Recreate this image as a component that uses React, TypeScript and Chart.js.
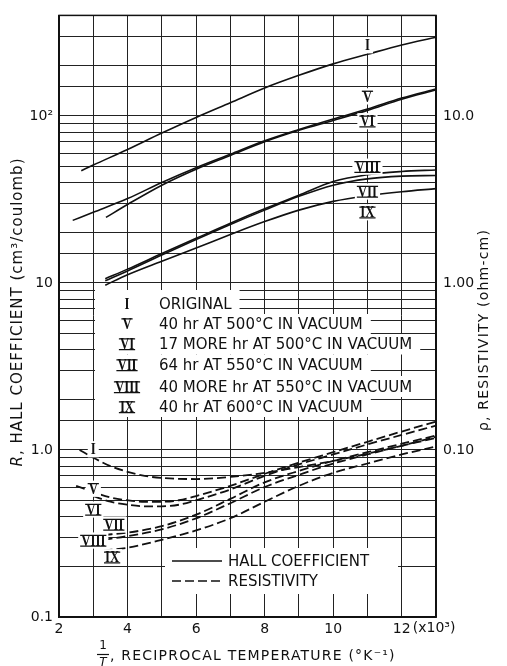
import React, { useEffect, useRef } from "react";
import { Chart, registerables } from "chart.js";
Chart.register(...registerables);

// ---------- data ----------
const seriesNames = ["I", "V", "VI", "VII", "VIII", "IX"];
const seriesDescriptions = [
  "ORIGINAL",
  "40 hr AT 500°C IN VACUUM",
  "17 MORE hr AT 500°C IN VACUUM",
  "64 hr AT 550°C IN VACUUM",
  "40 MORE hr AT 550°C IN VACUUM",
  "40 hr AT 600°C IN VACUUM",
];

// Hall coefficient R (cm^3/coulomb), left axis — vs 1/T (x10^-3 K^-1)
const hallX_I = [2.65, 3, 4, 5, 6, 7, 8, 9, 10, 11, 12, 13];
const hallR_I = [47, 50.8, 63, 79, 98, 120, 147, 175, 205, 234, 266, 296];
const hallX_V = [2.4, 3, 4, 5, 6, 7, 8, 9, 10, 11, 12, 13];
const hallR_V = [23.7, 26.5, 32, 40, 49, 59, 71, 83, 96, 110, 128, 145];
const hallX_VI = [3.37, 4, 5, 6, 7, 8, 9, 10, 11, 12, 13];
const hallR_VI = [24.7, 29.5, 38.5, 48, 58, 70, 82, 94, 108, 126, 143];
const hallX_VII = [3.35, 4, 5, 6, 7, 8, 9, 10, 11, 12, 13];
const hallR_VII = [10.3, 11.8, 14.7, 18.2, 22.4, 27.3, 33, 38.5, 42, 43.6, 44];
const hallX_VIII = [3.35, 4, 5, 6, 7, 8, 9, 10, 11, 12, 13];
const hallR_VIII = [10.6, 12.1, 15, 18.5, 22.8, 27.8, 33.5, 40.5, 44.5, 46.5, 47.5];
const hallX_IX = [3.35, 4, 5, 6, 7, 8, 9, 10, 11, 12, 13];
const hallR_IX = [9.7, 11.2, 13.5, 16.2, 19.5, 23.3, 27.3, 30.8, 33.3, 35.2, 36.7];

// Resistivity rho (ohm-cm), right axis
const rhoX_I = [2.6, 3, 3.5, 4, 4.5, 5, 6, 7, 8, 9, 10, 11, 12, 13];
const rho_I = [0.1, 0.09, 0.08, 0.074, 0.07, 0.068, 0.067, 0.069, 0.073, 0.079, 0.086, 0.095, 0.106, 0.12];
const rhoX_V = [2.5, 3, 3.5, 4, 4.5, 5, 5.5, 6, 7, 8, 9, 10, 11, 12, 13];
const rho_V = [0.061, 0.056, 0.052, 0.05, 0.049, 0.049, 0.05, 0.053, 0.061, 0.072, 0.084, 0.097, 0.112, 0.129, 0.148];
const rhoX_VI = [3.0, 3.5, 4, 4.5, 5, 5.5, 6, 7, 8, 9, 10, 11, 12, 13];
const rho_VI = [0.053, 0.049, 0.047, 0.046, 0.046, 0.047, 0.05, 0.058, 0.07, 0.082, 0.094, 0.108, 0.123, 0.14];
const rhoX_VII = [3.3, 4, 5, 6, 7, 8, 9, 10, 11, 12, 13];
const rho_VII = [0.031, 0.032, 0.035, 0.041, 0.051, 0.064, 0.075, 0.086, 0.097, 0.109, 0.122];
const rhoX_VIII = [3.3, 4, 5, 6, 7, 8, 9, 10, 11, 12, 13];
const rho_VIII = [0.029, 0.0305, 0.0335, 0.039, 0.048, 0.06, 0.071, 0.083, 0.094, 0.106, 0.118];
const rhoX_IX = [3.3, 4, 5, 6, 7, 8, 9, 10, 11, 12, 13];
const rho_IX = [0.025, 0.026, 0.029, 0.033, 0.039, 0.049, 0.061, 0.073, 0.083, 0.094, 0.105];

// curve label anchors (x, R on left axis)
const upperLabelNames = ["I", "V", "VI", "VIII", "VII", "IX"];
const upperLabelX = [11, 11, 11, 11, 11, 11];
const upperLabelR = [265, 131, 93, 49.7, 35.3, 26.5];
const lowerLabelNames = ["I", "V", "VI", "VII", "VIII", "IX"];
const lowerLabelX = [3, 3, 3, 3.6, 3, 3.55];
const lowerLabelR = [1.01, 0.586, 0.44, 0.358, 0.287, 0.228];

const leftTickText: Record<number, string> = { [-1]: "0.1", 0: "1.0", 1: "10", 2: "10²" };
const rightTickText: Record<number, string> = { [-2]: "", [-1]: "0.10", 0: "1.00", 1: "10.0" };

// ---------- helpers ----------
const INK = "#111";
const FONT = '"DejaVu Sans", sans-serif';
const pts = (xs: number[], ys: number[]) => xs.map((x, i) => ({ x, y: ys[i] }));
const decadeExp = (v: number) => {
  const l = Math.log10(v);
  return Math.abs(l - Math.round(l)) < 1e-6 ? Math.round(l) : null;
};

function drawRoman(ctx: CanvasRenderingContext2D, text: string, cx: number, cy: number, size: number) {
  ctx.save();
  ctx.font = `bold ${size}px "Liberation Serif", "DejaVu Serif", serif`;
  ctx.textAlign = "center";
  ctx.textBaseline = "middle";
  const sx = 0.8;
  const w = ctx.measureText(text).width * sx;
  const capH = size * 0.64;
  ctx.fillStyle = "#fff";
  ctx.fillRect(cx - w / 2 - 3, cy - capH / 2 - 3, w + 6, capH + 6);
  ctx.fillStyle = INK;
  ctx.save();
  ctx.translate(cx, cy + 1);
  ctx.scale(sx, 1);
  ctx.fillText(text, 0, 0);
  ctx.restore();
  ctx.strokeStyle = INK;
  ctx.lineWidth = 1.3;
  if (text.length > 1 || text === "V") {
    ctx.beginPath();
    ctx.moveTo(cx - w / 2 - 1, cy - capH / 2);
    ctx.lineTo(cx + w / 2 + 1, cy - capH / 2);
    if (text.length > 1) {
      ctx.moveTo(cx - w / 2 - 1, cy + capH / 2 + 0.5);
      ctx.lineTo(cx + w / 2 + 1, cy + capH / 2 + 0.5);
    }
    ctx.stroke();
  }
  ctx.restore();
}

function drawRich(
  ctx: CanvasRenderingContext2D,
  segs: { text: string; font: string }[],
  x: number,
  y: number,
  rotate: boolean,
  spacing: string
) {
  ctx.save();
  ctx.translate(x, y);
  if (rotate) ctx.rotate(-Math.PI / 2);
  (ctx as any).letterSpacing = spacing;
  let total = 0;
  const ws = segs.map((s) => {
    ctx.font = s.font;
    const w = ctx.measureText(s.text).width;
    total += w;
    return w;
  });
  let cx = -total / 2;
  ctx.textAlign = "left";
  ctx.textBaseline = "middle";
  ctx.fillStyle = INK;
  segs.forEach((s, i) => {
    ctx.font = s.font;
    ctx.fillText(s.text, cx, 0);
    cx += ws[i];
  });
  ctx.restore();
}

const overlayPlugin = {
  id: "overlay",
  beforeDatasetsDraw(chart: any) {
    const ctx: CanvasRenderingContext2D = chart.ctx;
    ctx.save();
    ctx.fillStyle = "#fff";
    ctx.font = `15px ${FONT}`;
    const rowsY = [304, 324, 344, 365, 387, 407];
    const textX = 159;
    rowsY.forEach((cy, i) => {
      const top = i === 0 ? 290 : (rowsY[i - 1] + cy) / 2;
      const bot = i === rowsY.length - 1 ? 417 : (rowsY[i + 1] + cy) / 2;
      const w = ctx.measureText(seriesDescriptions[i]).width;
      ctx.fillRect(95, top, textX + w + 8 - 95, bot - top);
    });
    ctx.fillRect(165, 548, 233, 46);
    ctx.restore();
  },
  afterDatasetsDraw(chart: any) {
    const ctx: CanvasRenderingContext2D = chart.ctx;
    const xs = chart.scales.x;
    const ys = chart.scales.y;
    const { left, top, right, bottom } = chart.chartArea;
    ctx.save();
    ctx.strokeStyle = INK;
    ctx.lineWidth = 1.5;
    ctx.strokeRect(left, top, right - left, bottom - top);

    // legend block
    const rowsY = [304, 324, 344, 365, 387, 407];
    rowsY.forEach((cy, i) => {
      drawRoman(ctx, seriesNames[i], 127, cy, 16);
      ctx.fillStyle = INK;
      ctx.font = `15px ${FONT}`;
      ctx.textAlign = "left";
      ctx.textBaseline = "middle";
      ctx.fillText(seriesDescriptions[i], 159, cy + 1);
    });

    // line style legend
    ctx.strokeStyle = INK;
    ctx.lineWidth = 1.7;
    ctx.beginPath();
    ctx.moveTo(172, 561);
    ctx.lineTo(222, 561);
    ctx.stroke();
    ctx.setLineDash([9, 4]);
    ctx.beginPath();
    ctx.moveTo(172, 581);
    ctx.lineTo(222, 581);
    ctx.stroke();
    ctx.setLineDash([]);
    ctx.fillStyle = INK;
    ctx.font = `15px ${FONT}`;
    ctx.textAlign = "left";
    ctx.textBaseline = "middle";
    ctx.fillText("HALL COEFFICIENT", 228, 562);
    ctx.fillText("RESISTIVITY", 228, 582);

    // curve labels
    upperLabelNames.forEach((n, i) => {
      drawRoman(ctx, n, xs.getPixelForValue(upperLabelX[i]), ys.getPixelForValue(upperLabelR[i]), 16);
    });
    lowerLabelNames.forEach((n, i) => {
      drawRoman(ctx, n, xs.getPixelForValue(lowerLabelX[i]), ys.getPixelForValue(lowerLabelR[i]), 16);
    });

    // x10^3 note next to the 12 tick
    ctx.fillStyle = INK;
    ctx.font = `14px ${FONT}`;
    ctx.textAlign = "left";
    ctx.textBaseline = "middle";
    ctx.fillText("(x10³)", xs.getPixelForValue(12) + 11, 628);

    // axis titles
    drawRich(
      ctx,
      [
        { text: "R", font: `italic 15px ${FONT}` },
        { text: ", HALL COEFFICIENT (cm³/coulomb)", font: `15px ${FONT}` },
      ],
      18,
      312,
      true,
      "1px"
    );
    drawRich(ctx, [{ text: "ρ, RESISTIVITY (ohm-cm)", font: `14px ${FONT}` }], 484, 330, true, "1.2px");
    // x title with fraction 1/T
    ctx.font = `12px ${FONT}`;
    ctx.textAlign = "center";
    ctx.fillText("1", 103, 646);
    ctx.lineWidth = 1.2;
    ctx.beginPath();
    ctx.moveTo(97, 654.5);
    ctx.lineTo(109, 654.5);
    ctx.stroke();
    ctx.font = `italic 12px ${FONT}`;
    ctx.fillText("T", 103, 663);
    ctx.textAlign = "left";
    (ctx as any).letterSpacing = "1.2px";
    ctx.font = `14px ${FONT}`;
    ctx.fillText(", RECIPROCAL TEMPERATURE (°K⁻¹)", 110, 656);
    ctx.restore();
  },
};

export default function App() {
  const ref = useRef<HTMLCanvasElement | null>(null);
  useEffect(() => {
    if (!ref.current) return;
    const solid = (xs: number[], ys: number[]) => ({
      data: pts(xs, ys),
      yAxisID: "y",
      borderColor: INK,
      borderWidth: 1.6,
      pointRadius: 0,
      cubicInterpolationMode: "monotone",
      fill: false,
    });
    const dashed = (xs: number[], ys: number[]) => ({
      data: pts(xs, ys),
      yAxisID: "y2",
      borderColor: INK,
      borderWidth: 1.8,
      borderDash: [9, 4],
      pointRadius: 0,
      cubicInterpolationMode: "monotone",
      fill: false,
    });
    const chart = new Chart(ref.current, {
      type: "line",
      data: {
        datasets: [
          solid(hallX_I, hallR_I),
          solid(hallX_V, hallR_V),
          solid(hallX_VI, hallR_VI),
          solid(hallX_VII, hallR_VII),
          solid(hallX_VIII, hallR_VIII),
          solid(hallX_IX, hallR_IX),
          dashed(rhoX_I, rho_I),
          dashed(rhoX_V, rho_V),
          dashed(rhoX_VI, rho_VI),
          dashed(rhoX_VII, rho_VII),
          dashed(rhoX_VIII, rho_VIII),
          dashed(rhoX_IX, rho_IX),
        ] as any,
      },
      options: {
        animation: false,
        responsive: false,
        devicePixelRatio: 1,
        layout: { padding: { top: 12, left: 0, right: 0, bottom: 0 } },
        plugins: { legend: { display: false }, tooltip: { enabled: false } },
        scales: {
          x: {
            type: "linear",
            min: 2,
            max: 13,
            ticks: {
              stepSize: 1,
              autoSkip: false,
              maxRotation: 0,
              padding: 4,
              color: INK,
              font: { family: FONT, size: 14 },
              callback: (v: any) => (Number(v) % 2 === 0 ? String(v) : ""),
            },
            grid: { color: "#222", lineWidth: 1, drawTicks: false },
            border: { color: INK, width: 1.5 },
            afterFit: (s: any) => {
              s.height = 49;
            },
          },
          y: {
            type: "logarithmic",
            position: "left",
            min: 0.1,
            max: 400,
            ticks: {
              autoSkip: false,
              padding: 6,
              color: INK,
              font: { family: FONT, size: 14 },
              callback: (v: any) => {
                const e = decadeExp(Number(v));
                return e !== null && leftTickText[e] !== undefined ? leftTickText[e] : "";
              },
            },
            grid: { color: "#222", lineWidth: 1, drawTicks: false },
            border: { color: INK, width: 1.5 },
            afterFit: (s: any) => {
              s.width = 59;
            },
          },
          y2: {
            type: "logarithmic",
            position: "right",
            min: 0.01,
            max: 40,
            ticks: {
              autoSkip: false,
              padding: 7,
              color: INK,
              font: { family: FONT, size: 14 },
              callback: (v: any) => {
                const e = decadeExp(Number(v));
                return e !== null && rightTickText[e] !== undefined ? rightTickText[e] : "";
              },
            },
            grid: { display: false, drawTicks: false },
            border: { color: INK, width: 1.5 },
            afterFit: (s: any) => {
              s.width = 71;
            },
          },
        },
      } as any,
      plugins: [overlayPlugin],
    });
    return () => chart.destroy();
  }, []);
  return (
    <div style={{ position: "fixed", left: 0, top: 0, width: 507, height: 666, background: "#fff" }}>
      <canvas ref={ref} width={507} height={666} style={{ display: "block" }} />
    </div>
  );
}
